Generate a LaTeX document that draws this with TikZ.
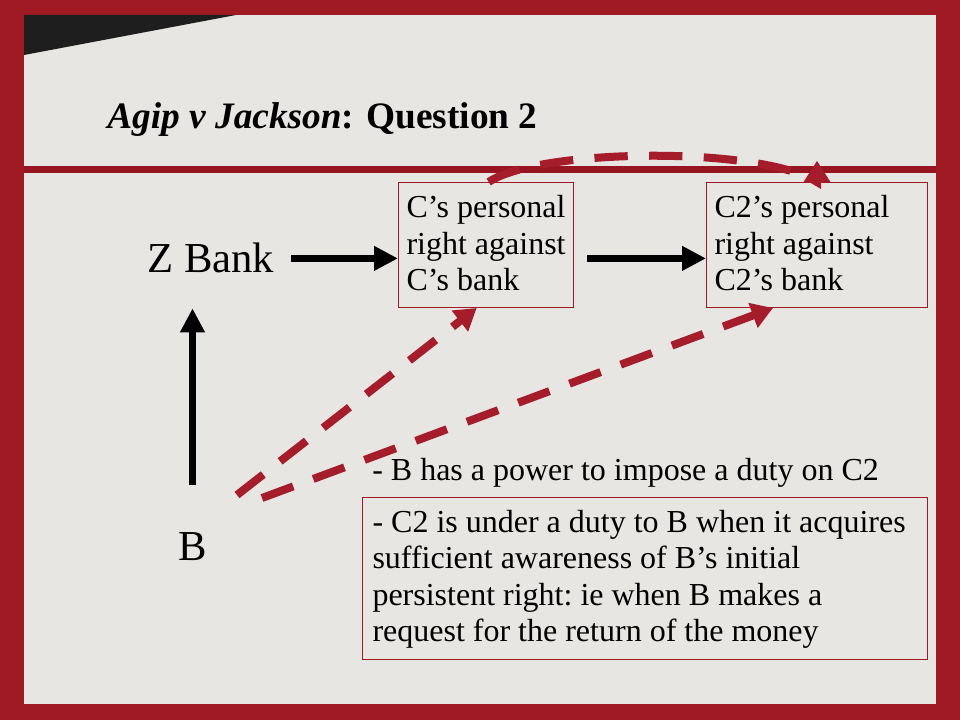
\documentclass[tikz,border=0pt]{standalone}
\usepackage{fontspec}
\setmainfont{Liberation Serif}
\usetikzlibrary{arrows.meta}
\definecolor{framered}{HTML}{A01A23}
\definecolor{bandred}{HTML}{971520}
\definecolor{paper}{HTML}{E8E6E2}
\definecolor{dashred}{HTML}{A51C2A}
\definecolor{slate}{HTML}{1E1E1E}
\newcommand{\boxlines}[1]{\spaceskip=0pt\xspaceskip=0pt\begin{tabular}[t]{@{}l@{}}#1\end{tabular}}
\begin{document}
\begin{tikzpicture}[x=0.75pt,y=-0.75pt,
    blackarrow/.style={line width=5.25pt,-{Triangle[length=18pt,width=17.5pt]}},
    redarrow/.style={dashred,line width=6pt,dash pattern=on 25pt off 16pt,-{Triangle[length=16pt,width=19pt]}},
    rightbox/.style={draw=framered,line width=0.75pt,inner xsep=6pt,inner ysep=0pt,text height=26.25pt,text depth=67.5pt,
        anchor=north west,font=\fontsize{24}{27.5}\selectfont\frenchspacing},
    bigname/.style={inner sep=0pt,anchor=base west,font=\fontsize{32}{38}\selectfont}]
\useasboundingbox (0,0) rectangle (960,720);
\fill[framered] (0,0) rectangle (960,720);
\fill[paper] (24,15) rectangle (936,704);
\fill[slate] (24,15) -- (236,15) -- (24,55) -- cycle;
\fill[bandred] (24,166) rectangle (936,173);

\node[anchor=base west,inner sep=0pt,font=\fontsize{28}{34}\selectfont\bfseries] (title) at (107,129)
    {\textit{Agip v Jackson}: Question 2};
\node[bigname] (zbank) at (147,273) {Z Bank};
\node[bigname] (b) at (178,560) {B};
\node[rightbox,text width=119.25pt] (cbank) at (398,182) {\boxlines{C’s personal\\right against\\C’s bank}};
\node[rightbox,text width=153.75pt] (ctwobank) at (706,182) {\boxlines{C2’s personal\\right against\\C2’s bank}};
\node[anchor=base west,inner sep=0pt,font=\fontsize{24}{28}\selectfont] (power) at (372,480)
    {- B has a power to impose a duty on C2};
\node[rightbox,text width=408.75pt,inner xsep=7.5pt,text depth=95.25pt,font=\fontsize{24}{27.25}\selectfont\frenchspacing] (duty) at (362,497)
    {\boxlines{- C2 is under a duty to B when it acquires\\sufficient awareness of B’s initial\\persistent right: ie when B makes a\\request for the return of the money}};

\draw[blackarrow,shorten <=12.75pt] (zbank.east) -- (zbank.east -| cbank.west);
\draw[blackarrow,shorten <=10pt] (cbank.east |- zbank.east) -- (ctwobank.west |- zbank.east);
\draw[blackarrow,shorten <=35pt,shorten >=26pt] (b.north) -- (b.north |- zbank.south);

\coordinate (bfrom) at (237,495);
\coordinate (bfromlow) at (262,498);
\draw[redarrow] (bfrom) -- ([xshift=-7pt]cbank.south);
\draw[redarrow] (bfromlow) -- ([xshift=-33pt]ctwobank.south);
\draw[redarrow] ([xshift=2pt]cbank.north) .. controls (540,148) and (760,146) .. (ctwobank.north)
    -- ([yshift=16pt]ctwobank.north);
\end{tikzpicture}
\end{document}
